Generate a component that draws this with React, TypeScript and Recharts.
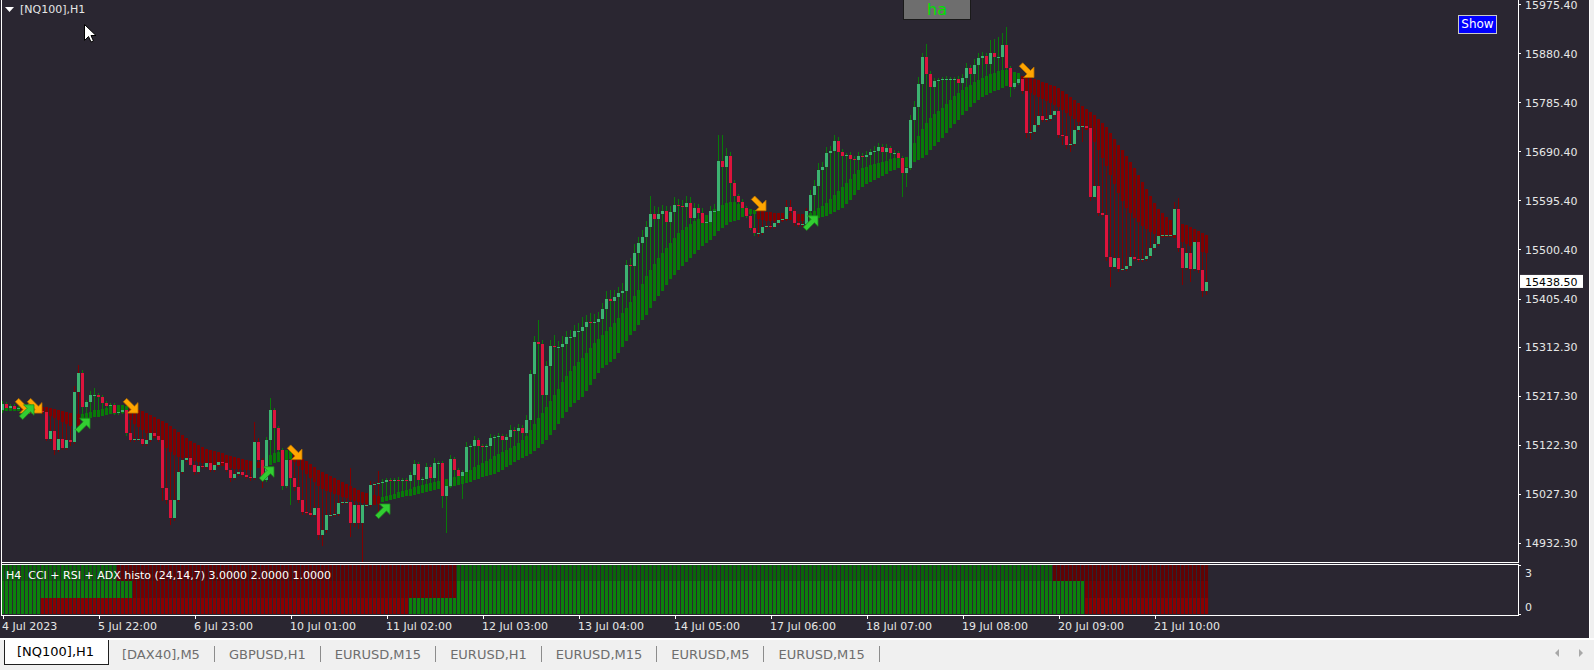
import { ComposedChart, Bar, Scatter, XAxis, YAxis } from 'recharts'

const BG = '#2a2631'
const FONT = '"DejaVu Sans", Verdana, sans-serif'

const COL = {
  candleUp: '#3cb371',
  candleDn: '#dc143c',
  bandUp: '#087a08',
  bandDn: '#800000',
  text: '#e6e6e6',
}

// ---- chart data (NQ100 H1) ----
const firstOpen = 15190
const closes = [
  15202, 15194, 15198, 15192, 15194, 15196, 15190, 15192, 15190, 15189, 15187, 15134, 15150, 15113, 15134, 15117, 15132, 15128, 15225, 15262,
  15196, 15206, 15220, 15220, 15216, 15204, 15198, 15200, 15185, 15187, 15190, 15146, 15132, 15134, 15134, 15125, 15132, 15146, 15140, 15132,
  15039, 15016, 14981, 15016, 15070, 15094, 15097, 15084, 15070, 15082, 15080, 15088, 15074, 15084, 15090, 15088, 15074, 15059, 15067, 15070,
  15065, 15061, 15059, 15128, 15094, 15055, 15132, 15190, 15156, 15113, 15043, 15094, 15059, 15041, 15016, 14993, 14991, 14987, 15001, 14948,
  14958, 14987, 14987, 14989, 15010, 15012, 15012, 14972, 15007, 14972, 15007, 15007, 15045, 15047, 15049, 15051, 15055, 15053, 15055, 15053,
  15055, 15053, 15065, 15086, 15055, 15057, 15080, 15059, 15088, 15088, 15024, 15043, 15096, 15074, 15063, 15070, 15119, 15121, 15132, 15121,
  15119, 15121, 15136, 15138, 15140, 15132, 15138, 15152, 15150, 15156, 15146, 15171, 15260, 15322, 15318, 15220, 15276, 15314, 15312, 15312,
  15318, 15332, 15332, 15343, 15343, 15351, 15361, 15359, 15361, 15367, 15386, 15405, 15402, 15409, 15417, 15421, 15471, 15469, 15495, 15514,
  15526, 15545, 15570, 15560, 15570, 15576, 15555, 15574, 15587, 15586, 15584, 15591, 15562, 15582, 15572, 15553, 15555, 15576, 15576, 15673,
  15661, 15682, 15630, 15605, 15593, 15582, 15566, 15543, 15533, 15533, 15545, 15547, 15545, 15553, 15558, 15560, 15584, 15576, 15553, 15549,
  15551, 15576, 15607, 15624, 15655, 15661, 15688, 15692, 15711, 15690, 15682, 15684, 15677, 15675, 15682, 15680, 15684, 15690, 15692, 15700,
  15690, 15698, 15688, 15688, 15679, 15650, 15659, 15752, 15777, 15822, 15874, 15841, 15816, 15828, 15830, 15831, 15831, 15831, 15831, 15824,
  15833, 15853, 15841, 15859, 15872, 15876, 15861, 15882, 15874, 15874, 15897, 15853, 15816, 15824, 15831, 15808, 15727, 15729, 15742, 15760,
  15752, 15754, 15762, 15770, 15723, 15721, 15704, 15706, 15733, 15740, 15740, 15737, 15603, 15624, 15572, 15568, 15487, 15467, 15485, 15464,
  15464, 15469, 15487, 15483, 15481, 15483, 15489, 15504, 15512, 15527, 15529, 15529, 15529, 15580, 15504, 15466, 15495, 15464, 15516, 15462,
  15421, 15438.5,
]
// wick length above / below the body, in points
const upWick = [
  6, 4, 4, 4, 4, 4, 4, 4, 4, 4, 4, 4, 6, 4, 4, 4, 4, 4, 12, 16,
  6, 4, 8, 14, 4, 4, 4, 4, 4, 4, 4, 4, 4, 4, 4, 4, 4, 4, 4, 4,
  4, 4, 4, 4, 6, 6, 4, 4, 4, 4, 4, 4, 4, 4, 4, 4, 4, 4, 4, 4,
  4, 4, 4, 39, 8, 4, 6, 23, 4, 4, 4, 10, 4, 4, 4, 4, 4, 4, 4, 10,
  4, 6, 4, 4, 8, 4, 4, 66, 4, 4, 4, 4, 8, 4, 23, 6, 4, 4, 4, 6,
  4, 4, 6, 8, 4, 4, 8, 4, 10, 4, 4, 4, 8, 4, 4, 4, 10, 4, 8, 4,
  4, 4, 8, 4, 6, 4, 6, 10, 6, 8, 6, 10, 8, 12, 43, 8, 10, 12, 21, 12,
  16, 12, 14, 12, 16, 20, 14, 18, 16, 14, 12, 16, 18, 14, 12, 16, 10, 14, 16, 12,
  14, 12, 35, 16, 14, 12, 10, 12, 16, 12, 12, 14, 12, 10, 8, 10, 12, 10, 14, 50,
  50, 16, 8, 6, 4, 6, 4, 4, 4, 4, 4, 6, 4, 6, 8, 8, 14, 14, 4, 4,
  4, 6, 10, 12, 14, 10, 12, 10, 12, 8, 6, 4, 6, 6, 8, 6, 8, 6, 10, 8,
  6, 8, 4, 6, 4, 4, 4, 10, 12, 14, 8, 25, 6, 6, 4, 4, 6, 4, 4, 6,
  8, 10, 6, 12, 10, 8, 6, 25, 27, 39, 23, 35, 4, 6, 8, 4, 4, 4, 6, 8,
  6, 4, 8, 10, 4, 4, 4, 4, 8, 6, 8, 6, 4, 6, 4, 4, 4, 4, 6, 4,
  4, 6, 8, 4, 4, 4, 6, 8, 8, 10, 4, 4, 4, 14, 21, 4, 8, 4, 10, 4,
  4, 8,
]
const dnWick = [
  6, 4, 4, 4, 4, 4, 4, 4, 4, 4, 4, 4, 4, 10, 4, 4, 4, 8, 4, 4,
  4, 4, 4, 4, 4, 4, 4, 4, 4, 4, 4, 6, 4, 4, 4, 4, 4, 4, 4, 4,
  25, 8, 14, 6, 4, 4, 4, 4, 6, 4, 4, 4, 4, 4, 4, 4, 4, 8, 4, 4,
  4, 4, 6, 4, 4, 16, 4, 4, 4, 4, 8, 4, 52, 8, 6, 6, 4, 4, 4, 10,
  20, 6, 4, 4, 4, 4, 4, 27, 8, 12, 87, 4, 4, 4, 58, 4, 4, 4, 4, 4,
  4, 4, 4, 4, 6, 4, 4, 4, 4, 4, 23, 72, 4, 4, 4, 45, 4, 4, 4, 4,
  4, 4, 4, 4, 4, 4, 4, 4, 4, 4, 4, 4, 4, 4, 4, 6, 4, 4, 4, 4,
  4, 4, 4, 4, 4, 4, 4, 4, 4, 4, 4, 4, 4, 4, 4, 4, 4, 4, 4, 4,
  4, 4, 4, 4, 4, 4, 4, 4, 4, 4, 4, 4, 4, 4, 4, 4, 4, 4, 4, 4,
  4, 4, 6, 4, 4, 4, 4, 4, 6, 8, 4, 4, 4, 4, 4, 4, 4, 4, 6, 4,
  4, 4, 4, 4, 4, 4, 4, 4, 4, 4, 4, 4, 4, 4, 4, 4, 4, 4, 4, 4,
  4, 4, 4, 4, 4, 47, 27, 4, 4, 4, 4, 4, 4, 4, 4, 4, 4, 4, 4, 4,
  4, 4, 4, 4, 4, 4, 4, 4, 4, 4, 4, 4, 19, 4, 4, 6, 10, 14, 4, 4,
  4, 4, 4, 4, 6, 17, 8, 14, 4, 4, 30, 4, 8, 4, 6, 4, 8, 39, 4, 6,
  4, 4, 4, 4, 4, 4, 4, 4, 4, 4, 4, 4, 4, 4, 8, 33, 4, 25, 4, 6,
  12, 8,
]
// smoothed heiken ashi band
const bandOpen = [
  15189, 15189, 15189, 15189, 15189, 15194, 15190, 15190, 15196, 15196, 15196, 15196, 15194, 15192, 15190, 15189, 15187, 15185, 15183, 15183,
  15171, 15173, 15175, 15177, 15177, 15179, 15181, 15183, 15183, 15185, 15185, 15187, 15194, 15192, 15190, 15189, 15185, 15181, 15177, 15173,
  15169, 15165, 15159, 15154, 15148, 15142, 15136, 15130, 15127, 15123, 15119, 15115, 15113, 15111, 15109, 15107, 15103, 15101, 15099, 15097,
  15096, 15094, 15092, 15090, 15090, 15090, 15080, 15084, 15088, 15090, 15092, 15094, 15096, 15103, 15099, 15096, 15092, 15086, 15080, 15074,
  15070, 15067, 15063, 15059, 15055, 15051, 15047, 15043, 15039, 15036, 15032, 15030, 15028, 15026, 15024, 15012, 15014, 15016, 15018, 15020,
  15022, 15024, 15024, 15026, 15028, 15030, 15032, 15034, 15036, 15038, 15039, 15039, 15041, 15043, 15045, 15047, 15049, 15051, 15055, 15057,
  15061, 15063, 15065, 15067, 15070, 15074, 15080, 15084, 15090, 15094, 15097, 15101, 15105, 15111, 15117, 15125, 15132, 15142, 15152, 15163,
  15175, 15187, 15196, 15204, 15210, 15216, 15227, 15239, 15250, 15262, 15272, 15278, 15283, 15289, 15301, 15312, 15324, 15336, 15343, 15355,
  15365, 15374, 15388, 15402, 15411, 15421, 15433, 15444, 15452, 15462, 15469, 15477, 15485, 15493, 15500, 15508, 15514, 15520, 15527, 15537,
  15543, 15549, 15555, 15557, 15558, 15564, 15568, 15570, 15570, 15578, 15576, 15574, 15574, 15572, 15572, 15572, 15572, 15572, 15572, 15570,
  15570, 15570, 15558, 15560, 15562, 15564, 15566, 15570, 15574, 15578, 15582, 15589, 15597, 15607, 15617, 15622, 15628, 15632, 15636, 15640,
  15644, 15648, 15653, 15655, 15659, 15661, 15661, 15665, 15671, 15675, 15679, 15684, 15694, 15702, 15710, 15717, 15727, 15737, 15744, 15752,
  15762, 15770, 15777, 15785, 15791, 15797, 15801, 15804, 15808, 15810, 15814, 15818, 15822, 15824, 15826, 15837, 15835, 15833, 15831, 15830,
  15826, 15824, 15820, 15818, 15814, 15808, 15802, 15797, 15791, 15785, 15779, 15773, 15768, 15762, 15754, 15746, 15739, 15727, 15715, 15704,
  15694, 15682, 15671, 15659, 15646, 15632, 15618, 15605, 15591, 15580, 15572, 15564, 15558, 15555, 15553, 15551, 15549, 15545, 15541, 15537,
  15533, 15529,
]
const bandClose = [
  15196, 15196, 15196, 15196, 15196, 15190, 15196, 15196, 15190, 15189, 15187, 15183, 15179, 15175, 15171, 15167, 15163, 15159, 15157, 15159,
  15183, 15185, 15187, 15190, 15190, 15192, 15194, 15198, 15200, 15200, 15200, 15198, 15171, 15163, 15157, 15152, 15146, 15140, 15136, 15132,
  15125, 15117, 15109, 15103, 15099, 15097, 15096, 15094, 15092, 15090, 15088, 15088, 15086, 15084, 15082, 15082, 15080, 15078, 15076, 15076,
  15074, 15074, 15074, 15076, 15078, 15080, 15097, 15103, 15107, 15109, 15111, 15113, 15113, 15090, 15082, 15074, 15066, 15059, 15051, 15043,
  15037, 15033, 15031, 15028, 15026, 15022, 15020, 15016, 15014, 15012, 15010, 15008, 15007, 15007, 15008, 15022, 15024, 15026, 15028, 15032,
  15034, 15036, 15038, 15041, 15043, 15045, 15047, 15049, 15051, 15053, 15055, 15057, 15059, 15061, 15063, 15067, 15070, 15074, 15080, 15084,
  15088, 15092, 15096, 15101, 15105, 15109, 15113, 15117, 15121, 15127, 15132, 15140, 15152, 15163, 15175, 15185, 15196, 15208, 15220, 15231,
  15245, 15256, 15266, 15276, 15283, 15291, 15301, 15311, 15320, 15328, 15336, 15344, 15351, 15359, 15369, 15378, 15388, 15400, 15411, 15423,
  15434, 15450, 15462, 15473, 15485, 15495, 15504, 15514, 15524, 15533, 15539, 15545, 15551, 15557, 15560, 15564, 15568, 15574, 15580, 15584,
  15587, 15591, 15593, 15593, 15589, 15586, 15582, 15580, 15578, 15560, 15558, 15556, 15556, 15556, 15556, 15556, 15558, 15558, 15556, 15556,
  15556, 15556, 15572, 15576, 15582, 15586, 15591, 15599, 15607, 15615, 15622, 15630, 15638, 15648, 15655, 15659, 15661, 15665, 15667, 15669,
  15671, 15673, 15677, 15679, 15679, 15679, 15680, 15694, 15708, 15721, 15735, 15746, 15756, 15764, 15770, 15775, 15783, 15791, 15799, 15804,
  15810, 15816, 15820, 15825, 15830, 15833, 15837, 15841, 15843, 15847, 15849, 15849, 15847, 15845, 15843, 15810, 15806, 15804, 15801, 15797,
  15793, 15789, 15785, 15781, 15777, 15771, 15766, 15760, 15754, 15748, 15740, 15733, 15723, 15710, 15694, 15678, 15663, 15646, 15628, 15611,
  15595, 15582, 15572, 15562, 15555, 15547, 15541, 15535, 15531, 15527, 15525, 15525, 15525, 15524, 15520, 15516, 15512, 15508, 15504, 15500,
  15496, 15495,
]

const downArrowBars = [5, 8, 32, 73, 189, 256]
const downArrowPrices = [15198, 15198, 15198, 15108, 15590, 15848]
const upArrowBars = [6, 20, 66, 95, 202]
const upArrowPrices = [15187, 15161, 15067, 14995, 15553]

const priceTicks = [14932.3, 15027.3, 15122.3, 15217.3, 15312.3, 15405.4, 15500.4, 15595.4, 15690.4, 15785.4, 15880.4, 15975.4]
const lastPrice = 15438.5

const timeTickBars = [0, 24, 48, 72, 96, 120, 144, 168, 192, 216, 240, 264, 288]
const timeLabels = [
  '4 Jul 2023', '5 Jul 22:00', '6 Jul 23:00', '10 Jul 01:00', '11 Jul 02:00', '12 Jul 03:00', '13 Jul 04:00',
  '14 Jul 05:00', '17 Jul 06:00', '18 Jul 07:00', '19 Jul 08:00', '20 Jul 09:00', '21 Jul 10:00',
]

// histogram rows: bar index where the state flips (starts bullish)
const topRowFlips = [29, 114, 263]
const midRowFlips = [33, 114, 271]
const lowRowFlips = [10, 102, 271]

const tabs = ['[DAX40],M5', 'GBPUSD,H1', 'EURUSD,M15', 'EURUSD,H1', 'EURUSD,M15', 'EURUSD,M5', 'EURUSD,M15']

// ---- tables ----
const candles = closes.map((c, i) => {
  const o = i === 0 ? firstOpen : closes[i - 1]
  const hi = Math.max(o, c) + upWick[i]
  const lo = Math.min(o, c) - dnWick[i]
  const bo = bandOpen[i]
  const bc = bandClose[i]
  return { i, o, c, hi, lo, bo, bc, range: [Math.min(lo, bo, bc), Math.max(hi, bo, bc)] }
})

const downArrows = downArrowBars.map((i, k) => ({ i, p: downArrowPrices[k] }))
const upArrows = upArrowBars.map((i, k) => ({ i, p: upArrowPrices[k] }))

const isUp = (flips: number[], i: number) => flips.filter((f) => f <= i).length % 2 === 0
const histo = closes.map((_, i) => ({
  i,
  r1: 1,
  r2: 1,
  r3: 1,
  u1: isUp(topRowFlips, i),
  u2: isUp(midRowFlips, i),
  u3: isUp(lowRowFlips, i),
}))

// ---- shapes ----
function CandleShape(props: any) {
  const { x, y, width, height, payload } = props
  if (!payload || x == null) return null
  const [lo, hi] = payload.range
  const top = Math.min(y, y + height)
  const h = Math.abs(height)
  const k = h / (hi - lo || 1)
  const py = (p: number) => top + (hi - p) * k
  const left = Math.round(x + width / 2 - 1.5 + 0.01)
  const bandCol = payload.bc >= payload.bo ? COL.bandUp : COL.bandDn
  const bTop = py(Math.max(payload.bo, payload.bc))
  const bBot = py(Math.min(payload.bo, payload.bc))
  const cTop = py(Math.max(payload.o, payload.c))
  const cBot = py(Math.min(payload.o, payload.c))
  return (
    <g shapeRendering="crispEdges">
      <rect x={left + 1} y={top} width={1} height={Math.max(1, h)} fill={bandCol} />
      <rect x={left} y={bTop} width={3} height={Math.max(1, bBot - bTop)} fill={bandCol} />
      <rect
        x={left}
        y={cTop}
        width={3}
        height={Math.max(1, cBot - cTop)}
        fill={payload.c >= payload.o ? COL.candleUp : COL.candleDn}
      />
    </g>
  )
}

// diagonal arrow glyph, head in the lower right corner
const arrowPts = [[-4.3, -7.7], [3.45, 0.05], [7, -3.5], [7, 7], [-3.5, 7], [0.05, 3.45], [-7.7, -4.3]]

function DownArrow(props: any) {
  const { cx, cy } = props
  const pts = arrowPts.map(([a, b]) => `${cx + a},${cy + b}`).join(' ')
  return <polygon points={pts} fill="#ffa500" stroke="#b87000" strokeWidth={0.8} />
}

function UpArrow(props: any) {
  const { cx, cy } = props
  const pts = arrowPts.map(([a, b]) => `${cx + a},${cy - b}`).join(' ')
  return <polygon points={pts} fill="#32cd32" stroke="#1c8a1c" strokeWidth={0.8} />
}

const rowColors: Record<string, [string, string]> = {
  u1: ['#0a640a', '#600303'],
  u2: ['#0c800c', '#760000'],
  u3: ['#0c800c', '#8b0000'],
}

function rowShape(key: string) {
  return (props: any) => {
    const { x, y, width, height, payload } = props
    if (!payload || x == null) return null
    const left = Math.round(x + width / 2 - 1.5 + 0.01)
    const [up, dn] = rowColors[key]
    return (
      <rect
        x={left}
        y={Math.min(y, y + height)}
        width={3}
        height={Math.abs(height)}
        fill={payload[key] ? up : dn}
        shapeRendering="crispEdges"
      />
    )
  }
}

function PriceTick(props: any) {
  const { x, y, payload } = props
  const v = payload.value
  if (v === lastPrice) {
    return (
      <g>
        <rect x={x + 2} y={y - 7} width={63} height={13} fill="#ffffff" />
        <text x={x + 7} y={y} dy="0.36em" fill="#000000" fontSize={11} fontFamily={FONT}>
          {v.toFixed(2)}
        </text>
      </g>
    )
  }
  return (
    <g>
      <line x1={x} x2={x + 3} y1={y} y2={y} stroke="#ffffff" shapeRendering="crispEdges" />
      <text x={x + 7} y={y} dy="0.36em" fill={COL.text} fontSize={11} fontFamily={FONT}>
        {v.toFixed(2)}
      </text>
    </g>
  )
}

function LevelTick(props: any) {
  const { x, y, payload } = props
  const off = payload.value === 3 ? 8 : -7
  return (
    <g>
      <line x1={x} x2={x + 3} y1={y} y2={y} stroke="#ffffff" shapeRendering="crispEdges" />
      <text x={x + 7} y={y + off} dy="0.36em" fill={COL.text} fontSize={11} fontFamily={FONT}>
        {payload.value}
      </text>
    </g>
  )
}

function TimeTick(props: any) {
  const { x, y, payload } = props
  const label = timeLabels[timeTickBars.indexOf(payload.value)]
  return (
    <g>
      <line x1={x} x2={x} y1={y + 1} y2={y + 5} stroke="#ffffff" shapeRendering="crispEdges" />
      <text x={x - 1} y={y + 12} dy="0.36em" fill={COL.text} fontSize={11} fontFamily={FONT}>
        {label}
      </text>
    </g>
  )
}

const line = (left: number, top: number, width: number, height: number, bg = '#ffffff') => (
  <div style={{ position: 'absolute', left, top, width, height, background: bg }} />
)

export default function App() {
  return (
    <div
      style={{
        position: 'absolute',
        left: 0,
        top: 0,
        width: 1594,
        height: 670,
        background: BG,
        overflow: 'hidden',
        fontFamily: FONT,
      }}
    >
      <div style={{ position: 'absolute', left: 0, top: 0 }}>
        <ComposedChart width={1594} height={562} data={candles} margin={{ top: 0, right: 0, bottom: 0, left: 2 }}>
          <XAxis dataKey="i" type="number" domain={[-0.25, 378.75]} allowDataOverflow hide />
          <YAxis
            orientation="right"
            width={76}
            domain={[14896.1, 15984.5]}
            allowDataOverflow
            ticks={[...priceTicks, lastPrice]}
            interval={0}
            axisLine={{ stroke: '#ffffff', shapeRendering: 'crispEdges' }}
            tickLine={false}
            tickSize={0}
            tickMargin={0}
            tick={(p: any) => <PriceTick {...p} />}
          />
          <Bar dataKey={(d: any) => d.range} barSize={3} shape={(p: any) => <CandleShape {...p} />} isAnimationActive={false} />
          <Scatter data={downArrows} dataKey="p" shape={(p: any) => <DownArrow {...p} />} isAnimationActive={false} />
          <Scatter data={upArrows} dataKey="p" shape={(p: any) => <UpArrow {...p} />} isAnimationActive={false} />
        </ComposedChart>
      </div>

      <div style={{ position: 'absolute', left: 0, top: 564 }}>
        <ComposedChart width={1594} height={72} data={histo} margin={{ top: 1, right: 0, bottom: 0, left: 2 }}>
          <XAxis
            dataKey="i"
            type="number"
            domain={[-0.25, 378.75]}
            allowDataOverflow
            ticks={timeTickBars}
            interval={0}
            height={22}
            axisLine={false}
            tickLine={false}
            tickSize={0}
            tickMargin={0}
            tick={(p: any) => <TimeTick {...p} />}
          />
          <YAxis
            orientation="right"
            width={76}
            domain={[0, 3]}
            allowDataOverflow
            ticks={[0, 3]}
            interval={0}
            axisLine={{ stroke: '#ffffff', shapeRendering: 'crispEdges' }}
            tickLine={false}
            tickSize={0}
            tickMargin={0}
            tick={(p: any) => <LevelTick {...p} />}
          />
          <Bar dataKey="r3" stackId="h" barSize={3} shape={rowShape('u3')} isAnimationActive={false} />
          <Bar dataKey="r2" stackId="h" barSize={3} shape={rowShape('u2')} isAnimationActive={false} />
          <Bar dataKey="r1" stackId="h" barSize={3} shape={rowShape('u1')} isAnimationActive={false} />
        </ComposedChart>
      </div>

      {/* window frames */}
      {line(1, 0, 1, 616)}
      {line(1, 562, 1518, 1)}
      {line(1, 564, 1518, 1)}
      {line(1, 615, 1518, 1)}
      {line(1589, 0, 1, 640)}
      {line(1590, 0, 4, 640, '#f0f0f0')}

      {/* header */}
      <svg style={{ position: 'absolute', left: 0, top: 0 }} width={200} height={50}>
        <polygon points="5,7 14,7 9.5,12" fill="#ffffff" />
        <polygon
          points="84.5,24.5 84.5,40.5 88.5,36.5 91,42 93.5,41 91,35.5 96,35.5"
          fill="#ffffff"
          stroke="#000000"
          strokeWidth={1}
        />
      </svg>
      <div style={{ position: 'absolute', left: 20, top: 3, fontSize: 11, color: COL.text, lineHeight: '14px' }}>
        [NQ100],H1
      </div>
      <div
        style={{
          position: 'absolute',
          left: 903,
          top: -1,
          width: 66,
          height: 19,
          background: '#6e6e6e',
          border: '1px solid #1a1a1a',
          color: '#00e000',
          fontSize: 16,
          lineHeight: '19px',
          textAlign: 'center',
        }}
      >
        ha
      </div>
      <div
        style={{
          position: 'absolute',
          left: 1458,
          top: 15,
          width: 37,
          height: 17,
          background: '#0000ff',
          border: '1px solid #c8c8c8',
          color: '#ffffff',
          fontSize: 12,
          lineHeight: '17px',
          textAlign: 'center',
        }}
      >
        Show
      </div>
      <div
        style={{
          position: 'absolute',
          left: 6,
          top: 569,
          fontSize: 11,
          color: '#ffffff',
          lineHeight: '14px',
          whiteSpace: 'pre',
        }}
      >
        {'H4  CCI + RSI + ADX histo (24,14,7) 3.0000 2.0000 1.0000'}
      </div>

      {/* terminal tab bar */}
      {line(0, 638, 1594, 2)}
      <div style={{ position: 'absolute', left: 0, top: 640, width: 1594, height: 30, background: '#f0f0f0' }}>
        <div
          style={{
            position: 'absolute',
            left: 4,
            top: 0,
            height: 24,
            padding: '0 14px 0 12px',
            background: '#ffffff',
            border: '1px solid #202020',
            borderTop: 'none',
            fontSize: 13,
            lineHeight: '24px',
            color: '#000000',
          }}
        >
          [NQ100],H1
        </div>
        <div style={{ position: 'absolute', left: 108, top: 0, display: 'flex', height: 28, alignItems: 'center' }}>
          {tabs.map((t, k) => (
            <div key={k} style={{ display: 'flex', alignItems: 'center' }}>
              <span style={{ padding: '0 14px', fontSize: 13, color: '#6e6e6e' }}>{t}</span>
              <span style={{ width: 1, height: 16, background: '#8c8c8c' }} />
            </div>
          ))}
        </div>
        <svg style={{ position: 'absolute', left: 1545, top: 6 }} width={45} height={16}>
          <polygon points="10,7 14,3 14,11" fill="#a8a8a8" />
          <polygon points="34,3 38,7 34,11" fill="#a8a8a8" />
        </svg>
      </div>
    </div>
  )
}
